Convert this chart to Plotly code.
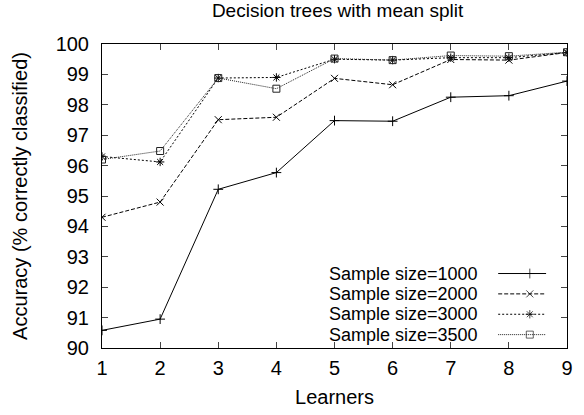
import plotly.graph_objects as go

learners = [1, 2, 3, 4, 5, 6, 7, 8, 9]
acc_1000 = [90.58, 90.95, 95.22, 95.77, 97.48, 97.46, 98.25, 98.30, 98.78]
acc_2000 = [94.30, 94.80, 97.51, 97.59, 98.87, 98.66, 99.49, 99.47, 99.72]
acc_3000 = [96.30, 96.12, 98.88, 98.90, 99.50, 99.47, 99.55, 99.55, 99.72]
acc_3500 = [96.20, 96.48, 98.88, 98.53, 99.52, 99.47, 99.62, 99.60, 99.73]
names = ["Sample size=1000", "Sample size=2000", "Sample size=3000", "Sample size=3500"]
y_ticks = list(range(90, 101))

series = [acc_1000, acc_2000, acc_3000, acc_3500]
dashes = ["solid", "4px,2px", "2px,2px", "1px,1px"]
symbols = ["cross-thin", "x-thin", "asterisk-open", "square-open"]
colors = ["#000000", "#000000", "#000000", "#222222"]

fig = go.Figure()
for s, n, d, sym, c in zip(series, names, dashes, symbols, colors):
    fig.add_trace(go.Scatter(
        x=learners, y=s, mode="lines+markers", name=n,
        line=dict(color=c, width=1, dash=d),
        marker=dict(symbol=sym, size=7, color=c, line=dict(color=c, width=1)),
        showlegend=False,
    ))

# custom gnuplot-style legend (text left, sample right)
leg_y = [0.245, 0.178, 0.111, 0.044]
for i, (n, d, sym, c) in enumerate(zip(names, dashes, symbols, colors)):
    fig.add_trace(go.Scatter(
        x=[0.852, 0.92, 0.955], y=[leg_y[i]] * 3, xaxis="x2", yaxis="y2",
        mode="lines+markers", line=dict(color=c, width=1, dash=d),
        marker=dict(symbol=sym, size=[0, 7, 0], color=c, line=dict(color=c, width=1)),
        showlegend=False, hoverinfo="skip",
    ))
    fig.add_annotation(x=0.811, y=leg_y[i], xref="x2", yref="y2", text=n,
                       showarrow=False, xanchor="right", yanchor="middle",
                       borderpad=0, font=dict(size=18, color="black"))

font = "Liberation Sans, Arial, sans-serif"
fig.update_layout(
    width=584, height=415,
    margin=dict(l=102, r=11, t=44, b=65),
    plot_bgcolor="white", paper_bgcolor="white",
    font=dict(family=font, size=20, color="black"),
    title=dict(text="Decision trees with mean split", x=0.578, xanchor="center",
               y=0.99, yanchor="top", font=dict(size=19)),
    xaxis=dict(range=[1, 9], tickvals=learners, ticks="inside", ticklen=6,
               mirror="ticks", showline=True, linecolor="black", linewidth=1,
               showgrid=False, zeroline=False,
               title=dict(text="Learners", standoff=11, font=dict(size=20)),
               tickfont=dict(size=20), ticklabelstandoff=2),
    yaxis=dict(range=[90, 100], tickvals=y_ticks, ticks="inside", ticklen=6,
               mirror="ticks", showline=True, linecolor="black", linewidth=1,
               showgrid=False, zeroline=False,
               title=dict(text="Accuracy (% correctly classified)", standoff=22,
                          font=dict(size=20)),
               tickfont=dict(size=20), ticklabelstandoff=8),
    xaxis2=dict(overlaying="x", range=[0, 1], visible=False, fixedrange=True),
    yaxis2=dict(overlaying="y", range=[0, 1], visible=False, fixedrange=True),
)

fig.write_html("out.html")
